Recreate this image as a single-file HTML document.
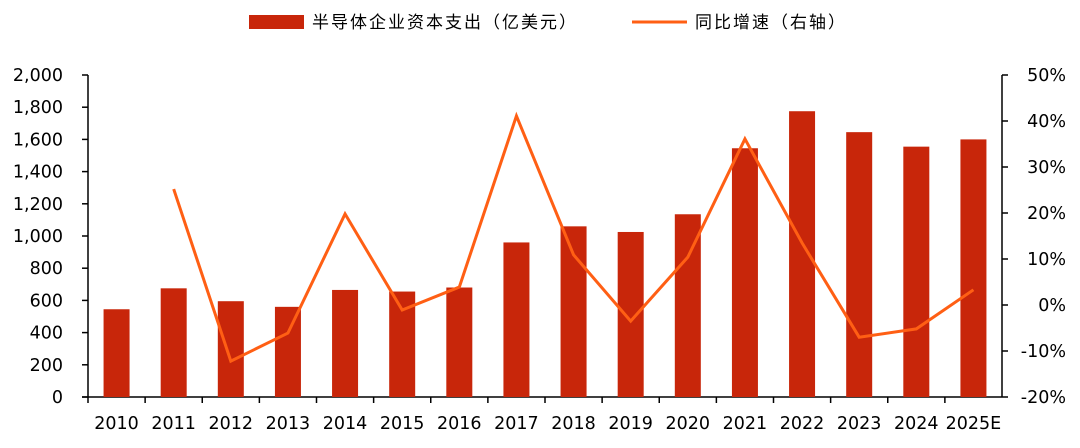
<!DOCTYPE html>
<html><head><meta charset="utf-8"><style>
body{margin:0;background:#fff;}
svg text{font-family:"DejaVu Sans","Liberation Sans","Noto Sans CJK SC",sans-serif;fill:#000;}
svg text.cjk{font-family:"Noto Sans CJK SC","WenQuanYi Zen Hei",sans-serif;letter-spacing:2px;}
</style></head><body>
<svg id="chart" width="1080" height="443">
<g>
<rect x="249" y="15" width="55" height="14" fill="#c8260a"/>
<text class="cjk" x="312" y="28" font-size="17">半导体企业资本支出（亿美元）</text>
<line x1="632" y1="22" x2="687" y2="22" stroke="#ff5f14" stroke-width="3"/>
<text class="cjk" x="695" y="28" font-size="17">同比增速（右轴）</text>
</g>
<g id="axes"></g><g id="bars"></g><g id="line"></g>
</svg>
<script>
const categories=["2010","2011","2012","2013","2014","2015","2016","2017","2018","2019","2020","2021","2022","2023","2024","2025E"];
const capex=[545,675,595,560,665,655,680,960,1060,1025,1135,1545,1775,1645,1555,1600];
const growth=[null,25.2,-12.2,-6.1,19.8,-1.1,3.9,41.1,10.9,-3.5,10.4,36.1,13.5,-7.0,-5.2,3.3];
const leftTicks=[0,200,400,600,800,1000,1200,1400,1600,1800,2000];
const rightTicks=[-20,-10,0,10,20,30,40,50];
const X0=88,X1=1002,Y0=397,Y1=75;
const NS="http://www.w3.org/2000/svg";
const bw=(X1-X0)/categories.length;
const xc=i=>X0+bw*(i+0.5);
const yL=v=>Y0-(v/2000)*(Y0-Y1);
const yR=v=>Y0-((v+20)/70)*(Y0-Y1);
function mk(tag,attrs,parent,txt){const e=document.createElementNS(NS,tag);for(const k in attrs)e.setAttribute(k,attrs[k]);if(txt!==undefined)e.textContent=txt;document.getElementById(parent).appendChild(e);return e;}
let e;
e=mk("line",{x1:X0,y1:Y1,x2:X0,y2:Y0,stroke:"#000","stroke-width":1.5},"axes");


e=mk("line",{x1:X1,y1:Y1,x2:X1,y2:Y0,stroke:"#000","stroke-width":1.5},"axes");


e=mk("line",{x1:X0-6,y1:Y0,x2:X1,y2:Y0,stroke:"#000","stroke-width":1.5},"axes");


leftTicks.forEach(v=>{
 mk("line",{x1:X0-6,y1:yL(v),x2:X0,y2:yL(v),stroke:"#000","stroke-width":1.5},"axes");
 e=mk("text",{x:X0-25,y:yL(v)+6,"font-size":17.5,"text-anchor":"end"},"axes",v.toLocaleString("en-US"));
 
 
});
rightTicks.forEach(v=>{
 mk("line",{x1:X1,y1:yR(v),x2:X1+6,y2:yR(v),stroke:"#000","stroke-width":1.5},"axes");
 e=mk("text",{x:X1+64,y:yR(v)+6,"font-size":17.5,"text-anchor":"end"},"axes",v+"%");
 
 
});
categories.forEach((c,i)=>{
 mk("line",{x1:X0+bw*i,y1:Y0,x2:X0+bw*i,y2:Y0+6,stroke:"#000","stroke-width":1.5},"axes");
 e=mk("text",{x:xc(i),y:Y0+32,"font-size":17.5,"text-anchor":"middle"},"axes",c);
 
 
 e=mk("rect",{x:xc(i)-13,y:yL(capex[i]),width:26,height:Y0-yL(capex[i]),fill:"#c8260a"},"bars");
 
 
});
const pts=growth.map((g,i)=>g===null?null:xc(i)+","+yR(g)).filter(p=>p);
e=mk("polyline",{points:pts.join(" "),fill:"none",stroke:"#ff5f14","stroke-width":3,"stroke-linejoin":"miter"},"line");


</script>
</body></html>
